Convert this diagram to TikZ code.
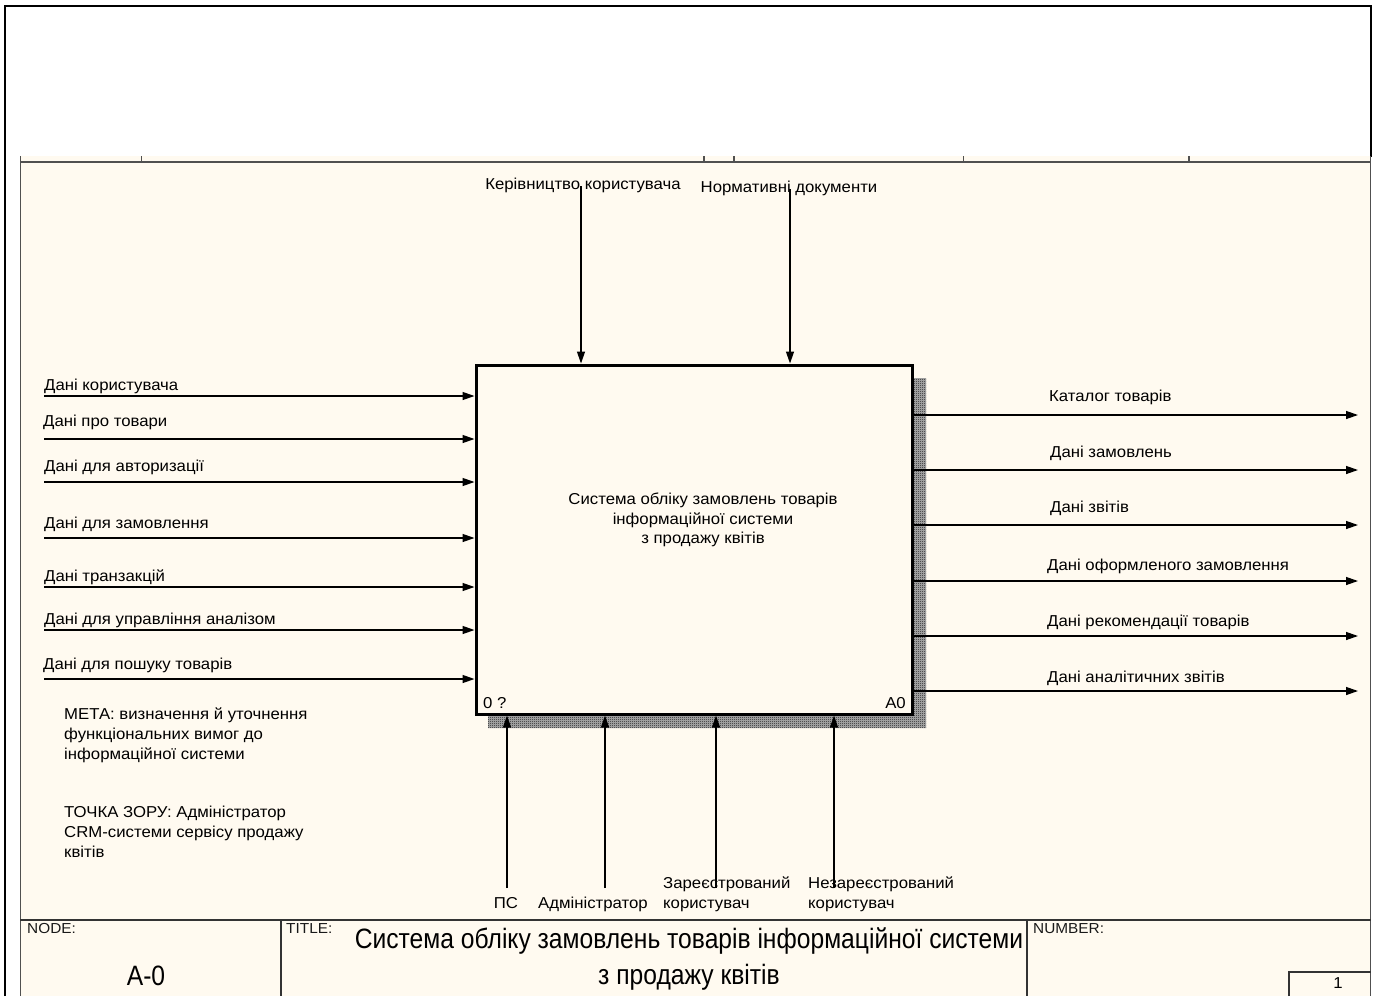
\documentclass[tikz,border=0pt]{standalone}
\usepackage{fontspec}
\setmainfont{Liberation Sans}
\newfontfamily\lblfont[FakeStretch=1.06]{Liberation Sans}
\newfontfamily\narrowfont[FakeStretch=0.88]{Liberation Sans}
\usetikzlibrary{arrows.meta,patterns}
\definecolor{cream}{HTML}{FFFAF0}
\definecolor{framegray}{HTML}{505050}
\pgfdeclarepatternformonly{finecheck}{\pgfqpoint{0pt}{0pt}}{\pgfqpoint{2pt}{2pt}}{\pgfqpoint{2pt}{2pt}}{%
  \pgfpathrectangle{\pgfqpoint{0pt}{0pt}}{\pgfqpoint{1pt}{1pt}}%
  \pgfpathrectangle{\pgfqpoint{1pt}{1pt}}{\pgfqpoint{1pt}{1pt}}%
  \pgfusepath{fill}}
\begin{document}
\begin{tikzpicture}[x=1pt,y=-1pt,
  lbl/.style={font=\lblfont\fontsize{15.8}{19.8}\selectfont, inner sep=0pt, text=black},
  flow/.style={draw=black, line width=1.3pt, -{Triangle[length=12pt,width=8pt]}},
  frameline/.style={draw=framegray, line width=1.3pt},
  blockline/.style={draw=black!80, line width=1.3pt},
  small/.style={font=\lblfont\fontsize{14.5}{16}\selectfont, inner sep=0pt, anchor=north west, text=black!90},
  box/.style={draw=black, line width=3pt, fill=cream, inner sep=0pt, minimum width=436pt, minimum height=349pt}]
\useasboundingbox (0,0) rectangle (1378,996);
\fill[white] (0,0) rectangle (1378,996);
% drawing area
\fill[cream] (20,156) rectangle (1371,996);
\draw[line width=2.2pt] (5,996) -- (5,6) -- (1371,6) -- (1371,157);
\draw[frameline] (20.5,156) -- (20.5,996);
\draw[frameline] (1370.5,156) -- (1370.5,996);
\draw[frameline] (20,162) -- (1371,162);
\foreach \tx in {141.5,704,734,963.5,1189} \draw[frameline] (\tx,156) -- (\tx,162);

% shadow
\fill[black!30] (912,378) -- (926,378) -- (926,728) -- (488,728) -- (488,714) -- (912,714) -- cycle;
\fill[pattern=finecheck, pattern color=black!90] (912,378) -- (926,378) -- (926,728) -- (488,728) -- (488,714) -- (912,714) -- cycle;
% activity box
\node[box] (A0) at (694,539.5) {};
\node[lbl, align=center] (A0t) at (703,520) {Система обліку замовлень товарів\\інформаційної системи\\з продажу квітів};
\node[lbl, anchor=base west] (A0n) at (483,708) {0 ?};
\node[lbl, anchor=base east] (A0id) at (906,708) {A0};

% inputs
\foreach \n/\lx/\ly/\yy/\t in {
  1/44/390/396/{Дані користувача},
  2/43/426/439/{Дані про товари},
  3/44/471/482/{Дані для авторизації},
  4/44/528/538/{Дані для замовлення},
  5/44/581/587/{Дані транзакцій},
  6/44/624/630/{Дані для управління аналізом},
  7/43/669/679/{Дані для пошуку товарів}} {
  \node[lbl, anchor=base west] (in\n) at (\lx,\ly) {\t};
  \coordinate (ins\n) at (44,\yy);
  \draw[flow] (ins\n) -- (ins\n -| A0.west);
}

% outputs
\foreach \n/\lx/\ly/\yy/\t in {
  1/1049/401/415/{Каталог товарів},
  2/1050/457/470/{Дані замовлень},
  3/1050/512/525/{Дані звітів},
  4/1047/570/581/{Дані оформленого замовлення},
  5/1047/626/636/{Дані рекомендації товарів},
  6/1047/682/691/{Дані аналітичних звітів}} {
  \node[lbl, anchor=base west] (out\n) at (\lx,\ly) {\t};
  \coordinate (oute\n) at (1358,\yy);
  \draw[flow] (oute\n -| A0.east) -- (oute\n);
}

% controls
\node[lbl, anchor=base] (ctl1) at (583,189) {Керівництво користувача};
\node[lbl, anchor=base] (ctl2) at (789,192) {Нормативні документи};
\coordinate (cs1) at (581,186);
\coordinate (cs2) at (790,189);
\draw[flow] (cs1) -- (cs1 |- A0.north);
\draw[flow] (cs2) -- (cs2 |- A0.north);

% mechanisms
\coordinate (ms1) at (507,888);
\coordinate (ms2) at (605,888);
\coordinate (ms3) at (716,888);
\coordinate (ms4) at (834,888);
\foreach \n in {1,2,3,4} \draw[flow] (ms\n) -- (ms\n |- A0.south);
\node[lbl, anchor=base] (mech1) at (506,908) {ПС};
\node[lbl, anchor=base] (mech2) at (593,908) {Адміністратор};
\node[lbl, anchor=base west, align=left] (mech3) at (663,908) {Зареєстрований\\користувач};
\node[lbl, anchor=base west, align=left] (mech4) at (808,908) {Незареєстрований\\користувач};

% notes
\node[lbl, anchor=north west, align=left] (goal) at (64,708) {МЕТА: визначення й уточнення\\функціональних вимог до\\інформаційної системи};
\node[lbl, anchor=north west, align=left] (view) at (64,806) {ТОЧКА ЗОРУ: Адміністратор\\CRM-системи сервісу продажу\\квітів};

% title block
\draw[blockline] (20,920) -- (1371,920);
\draw[blockline] (281,920) -- (281,996);
\draw[blockline] (1027,920) -- (1027,996);
\draw[blockline] (1289,996) -- (1289,972) -- (1371,972);
\node[small] (nodelbl) at (27,923) {NODE:};
\node[small] (titlelbl) at (286,923) {TITLE:};
\node[small] (numlbl) at (1033,923) {NUMBER:};
\node[font=\narrowfont\fontsize{28}{36}\selectfont, inner sep=0pt, anchor=base, text=black] (nodeid) at (146,985) {A-0};
\node[font=\narrowfont\fontsize{28}{36}\selectfont, inner sep=0pt, align=center, text=black] (title) at (689,959) {Система обліку замовлень товарів інформаційної системи\\з продажу квітів};
\node[font=\lblfont\fontsize{15.8}{18}\selectfont, inner sep=0pt, anchor=base, text=black] (num) at (1338,988) {1};
\end{tikzpicture}
\end{document}
